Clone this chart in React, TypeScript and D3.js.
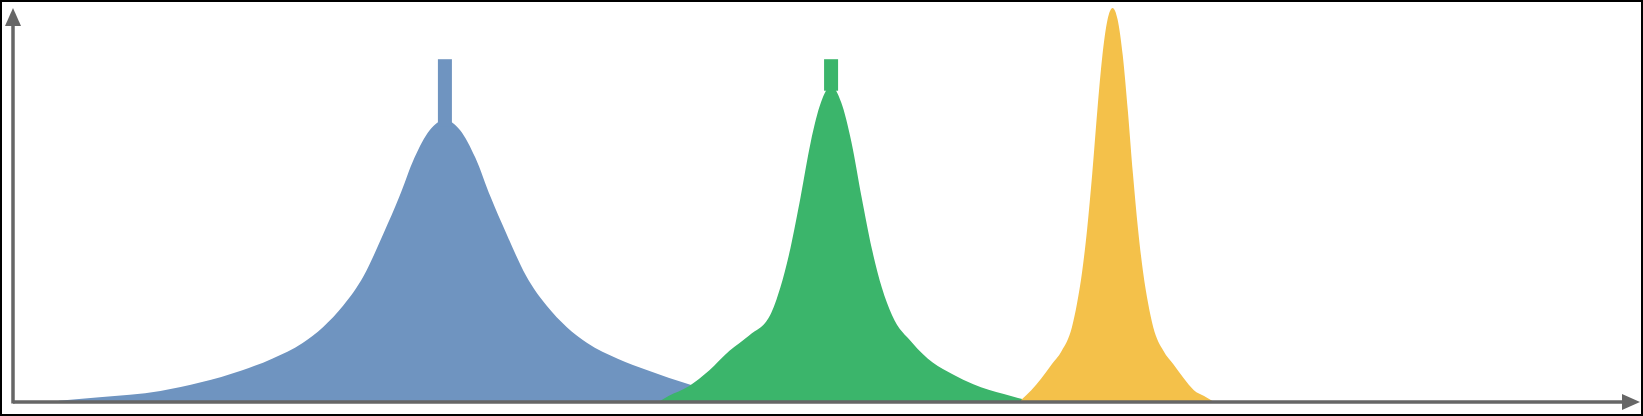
import * as d3 from "d3";

// x, y pairs (x 0..160, y 0..100)
const blueX = [4.5, 8.5, 14.5, 18.5, 22.5, 25.5, 28.5, 30.5, 32.5, 34.5, 36.5, 38, 39.5, 41, 42.5, 44, 45.5, 47, 48.5, 50.5, 52.5, 54.5, 56.5, 59.5, 62.5, 66.5, 70.5, 73];
const blueY = [0.3, 1.2, 2.8, 5, 8, 11, 15, 19, 24.5, 32, 43, 52, 62, 69, 71.6, 69, 62, 52, 43, 32, 24.5, 19, 15, 11, 8, 4.5, 1.5, 0];
const greenX = [63.5, 64.5, 66.5, 68.5, 70.5, 72.5, 74.5, 75.5, 76.5, 77.5, 78.5, 79.5, 80.5, 81.5, 82.5, 83.5, 84.5, 85.5, 86.5, 88.5, 90.5, 92.5, 94.5, 97.5, 100.5];
const greenY = [0, 1.5, 4, 8, 13, 17, 22, 29, 39, 52, 66, 76, 80.2, 76, 66, 52, 39, 29, 22, 15, 10, 7, 4.5, 2, 0];
const yellowX = [99.2, 100.2, 101.2, 102.2, 103.2, 104.2, 104.7, 105.2, 105.7, 106.2, 106.7, 107.2, 107.7, 108.2, 108.7, 109.2, 109.7, 110.2, 110.7, 111.2, 111.7, 112.2, 113.2, 114.2, 115.2, 116.2, 117.2, 118.2];
const yellowY = [0.5, 3, 6, 9.5, 13, 19, 25, 33, 44, 58, 74, 88, 97, 100, 97, 88, 74, 58, 44, 33, 25, 19, 13, 9.5, 6, 3, 1.5, 0];
// narrow spikes on top of the blue and green peaks: [center, base, top]
const spikes = [
  { x: 42.5, base: 70, top: 87, color: "#6f94c0" },
  { x: 80.5, base: 79, top: 87, color: "#3bb56b" },
];

const series = [
  { xs: blueX, ys: blueY, color: "#6f94c0" },
  { xs: greenX, ys: greenY, color: "#3bb56b" },
  { xs: yellowX, ys: yellowY, color: "#f4c14a" },
];

export default function App() {
  const width = 1643;
  const height = 416;
  const x = d3.scaleLinear([0, 160], [13, 1639]);
  const y = d3.scaleLinear([0, 100], [402, 8]);
  const area = d3
    .area<[number, number]>()
    .x((d) => x(d[0]))
    .y0(y(0))
    .y1((d) => y(d[1]))
    .curve(d3.curveMonotoneX);

  return (
    <div style={{ position: "fixed", left: 0, top: 0 }}>
      <svg width={width} height={height} style={{ display: "block" }}>
        <rect x={1} y={1} width={width - 2} height={height - 2} fill="white" stroke="black" strokeWidth={2} />
        {series.map((s, i) => (
          <path key={i} fill={s.color} d={area(s.xs.map((v, j) => [v, s.ys[j]] as [number, number])) || ""} />
        ))}
        {spikes.map((s, i) => (
          <rect key={i} x={x(s.x) - 7} width={14} y={y(s.top)} height={y(s.base) - y(s.top)} fill={s.color} />
        ))}
        <g fill="#666" stroke="#666">
          <line x1={x(0)} x2={x(0)} y1={y(0) + 1.5} y2={22} strokeWidth={3.5} />
          <line x1={x(0)} x2={1625} y1={y(0)} y2={y(0)} strokeWidth={3.5} />
          <path stroke="none" d={`M${x(0) - 8},26 L${x(0)},8 L${x(0) + 8},26 Z`} />
          <path stroke="none" d={`M1622,${y(0) - 8} L1640,${y(0)} L1622,${y(0) + 8} Z`} />
        </g>
      </svg>
    </div>
  );
}
